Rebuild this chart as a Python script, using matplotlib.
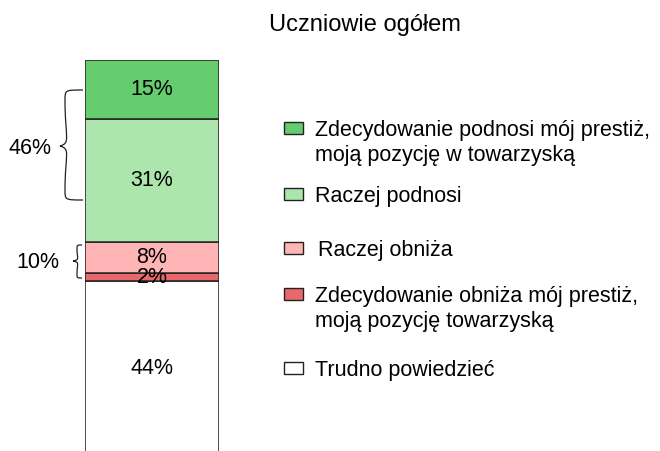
import numpy as np
import matplotlib.pyplot as plt
from matplotlib.patches import Rectangle, PathPatch
from matplotlib.path import Path

plt.rcParams['font.family'] = ['Liberation Sans', 'DejaVu Sans']

# dane (od dołu słupka do góry)
values = [44, 2, 8, 31, 15]
labels = ["Trudno powiedzieć",
          "Zdecydowanie obniża mój prestiż,\nmoją pozycję towarzyską",
          "Raczej obniża",
          "Raczej podnosi",
          "Zdecydowanie podnosi mój prestiż,\nmoją pozycję w towarzyską"]
colors = ["#ffffff", "#e8696b", "#ffb5b5", "#ade6ad", "#66cd6f"]
group_labels = ["46%", "10%"]
title = "Uczniowie ogółem"

W, H = 660, 451
fig = plt.figure(figsize=(W / 100, H / 100), dpi=100)

# słupek
ax = fig.add_axes([85 / W, 0, 134 / W, 391 / H])
bottom = 0
for v, c in zip(values, colors):
    ax.bar(0, v, bottom=bottom, width=1, color=c, edgecolor="#222222", linewidth=1.1)
    ax.text(0, bottom + v / 2, f"{v}%", ha="center", va="center", fontsize=15.5)
    bottom += v
ax.set_xlim(-0.5, 0.5)
ax.set_ylim(1.0, 100)
ax.axis("off")

# nakładka na całą figurę (piksele)
ov = fig.add_axes([0, 0, 1, 1], zorder=5)
ov.set_xlim(0, W)
ov.set_ylim(H, 0)
ov.axis("off")

ov.text(365, 25, title, ha="center", va="center", fontsize=17)


def brace(y0, y1, yc, xt, xm, xp, r, d):
    # klamra: górna połowa, potem dolna (lustrzanie)
    verts = [(xt, y0), (xm, y0), (xm, y0), (xm, y0 + r),
             (xm, yc - 0.15 * (yc - y0)), (xm + d, yc - 0.3 * r), (xp, yc),
             (xm + d, yc + 0.3 * r), (xm, yc + 0.15 * (y1 - yc)), (xm, y1 - r),
             (xm, y1), (xm, y1), (xt, y1)]
    codes = [Path.MOVETO] + [Path.CURVE4] * 12
    ov.add_patch(PathPatch(Path(verts, codes), fill=False, lw=0.9, edgecolor="#222222"))


brace(90, 200, 146, 83, 65, 60, 10, 6)
brace(245, 278, 261, 82, 77, 73, 4, 3)
ov.text(30, 148, group_labels[0], ha="center", va="center", fontsize=15.5)
ov.text(38, 263, group_labels[1], ha="center", va="center", fontsize=15.5)

# legenda (od góry)
leg_y = [128, 194, 248, 294, 368]
leg_tx = [315, 315, 318, 315, 315]
for i, (lab, c) in enumerate(zip(labels[::-1], colors[::-1])):
    y = leg_y[i]
    ov.add_patch(Rectangle((284, y - 6), 19, 12, facecolor=c, edgecolor="#222222", lw=1))
    ov.text(leg_tx[i], y - 8, lab, ha="left", va="top", fontsize=15.5, linespacing=1.22)

fig.savefig("out.png", dpi=100)
